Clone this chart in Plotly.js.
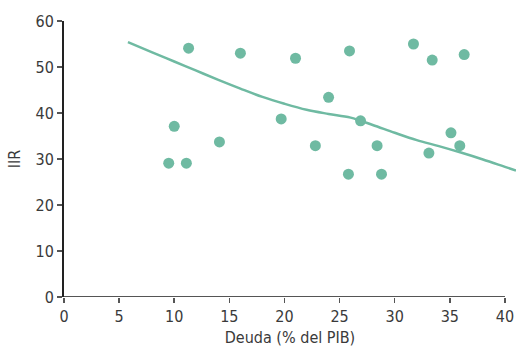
<!DOCTYPE html>
<html>
<head>
<meta charset="utf-8">
<script src="https://cdn.plot.ly/plotly-3.0.1.min.js"></script>
<style>html,body{margin:0;padding:0;background:#fff;}#chart{width:516px;height:355px;}</style>
</head>
<body>
<div id="chart"></div>
<script>
// Scatter data: Deuda (% del PIB) vs IIR
const deuda = [9.5, 11.1, 10.0, 11.3, 14.1, 16.0, 19.7, 21.0, 22.8, 24.0, 25.8, 25.9, 26.9, 28.4, 28.8, 31.7, 33.1, 33.4, 35.1, 35.9, 36.3];
const iir   = [29.1, 29.1, 37.1, 54.1, 33.7, 53.0, 38.7, 51.9, 32.9, 43.4, 26.7, 53.5, 38.3, 32.9, 26.7, 55.0, 31.3, 51.5, 35.7, 32.9, 52.7];

// Fitted trend line
const trendX = [5.8, 8, 10, 12, 14, 16, 18, 20, 22, 24, 26, 28, 30, 32, 34, 36, 38, 40, 41];
const trendY = [55.4, 53.2, 51.2, 49.2, 47.2, 45.3, 43.5, 42.0, 40.7, 39.8, 39.0, 37.4, 35.7, 34.1, 32.8, 31.4, 29.9, 28.3, 27.5];

const xTicks = [0, 5, 10, 15, 20, 25, 30, 35, 40];
const yTicks = [0, 10, 20, 30, 40, 50, 60];

const teal = '#6fbaa2';
const fontFam = '"DejaVu Sans Condensed", "DejaVu Sans", sans-serif';

const data = [
  {x: trendX, y: trendY, type: 'scatter', mode: 'lines',
   line: {color: teal, width: 2.5, shape: 'spline', smoothing: 1}, hoverinfo: 'skip'},
  {x: deuda, y: iir, type: 'scatter', mode: 'markers',
   marker: {color: teal, size: 11}, cliponaxis: false}
];

const layout = {
  width: 516, height: 355,
  margin: {l: 64, r: 0, t: 20.7, b: 58.3},
  paper_bgcolor: '#fff', plot_bgcolor: '#fff',
  showlegend: false,
  font: {family: fontFam, size: 16, color: '#3a3a3a'},
  xaxis: {
    range: [0, 41], tickvals: xTicks, ticktext: xTicks.map(String),
    showgrid: false, zeroline: false, showline: false,
    ticks: 'outside', ticklen: 5, tickwidth: 1.5, tickcolor: '#555',
    tickfont: {family: fontFam, size: 16, color: '#3a3a3a'},
    title: {text: 'Deuda (% del PIB)', font: {family: fontFam, size: 16, color: '#3a3a3a'}, standoff: 6}
  },
  yaxis: {
    range: [0, 60], tickvals: yTicks, ticktext: yTicks.map(String),
    showgrid: false, zeroline: false, showline: true, linecolor: '#222', linewidth: 2,
    ticks: 'outside', ticklen: 5, tickwidth: 1.5, tickcolor: '#555',
    tickfont: {family: fontFam, size: 16, color: '#3a3a3a'},
    title: {text: 'IIR', font: {family: fontFam, size: 16, color: '#3a3a3a'}, standoff: 11}
  },
  shapes: [
    {type: 'line', xref: 'x', yref: 'y', x0: 0, x1: 40, y0: 0, y1: 0,
     line: {color: '#555', width: 2}}
  ]
};

Plotly.newPlot('chart', data, layout, {staticPlot: true, displayModeBar: false});
</script>
</body>
</html>
